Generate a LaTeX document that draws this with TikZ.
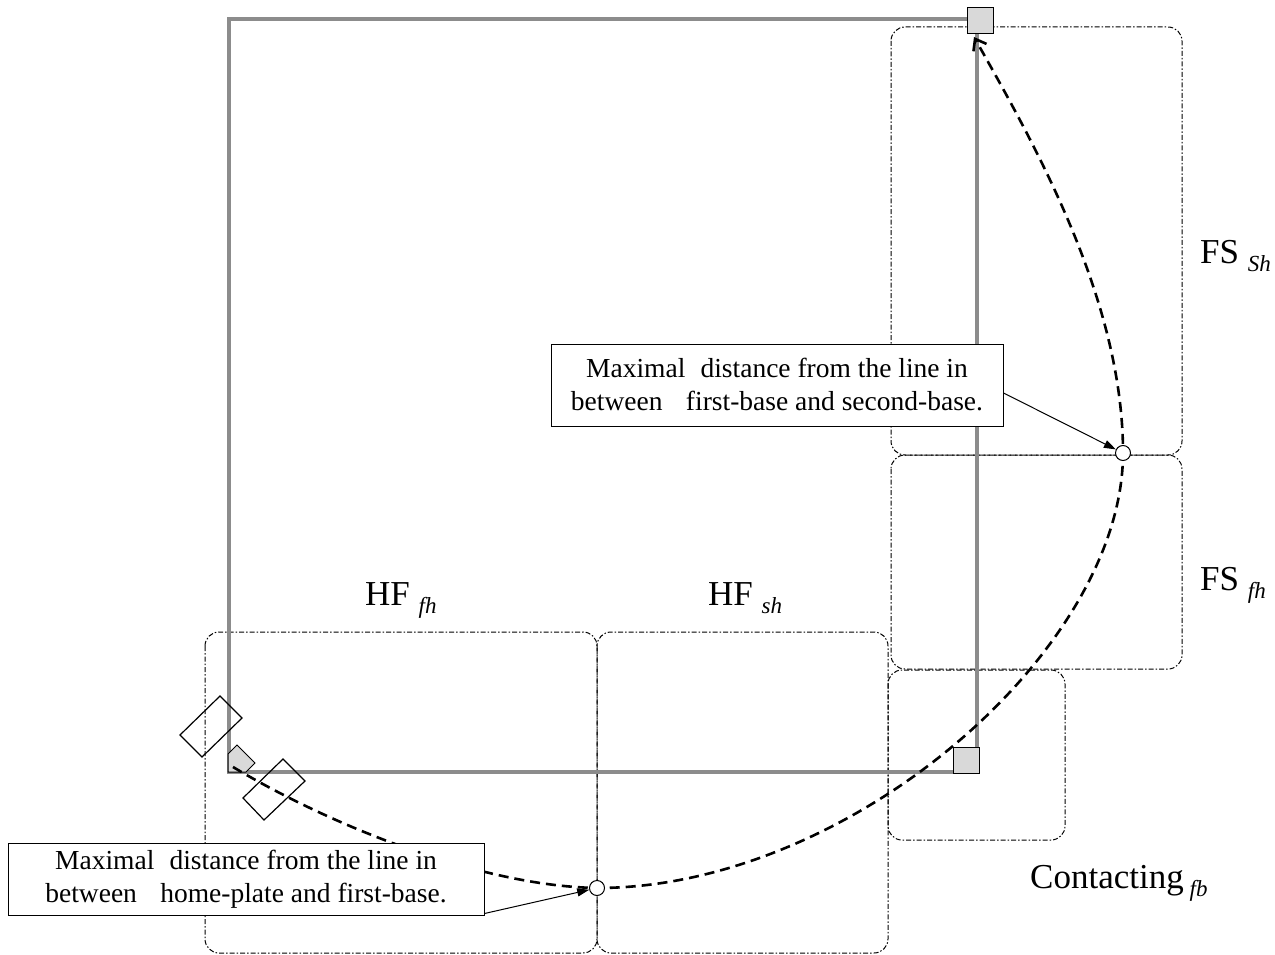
\documentclass[tikz,border=0pt]{standalone}
\usepackage{fontspec}
\setmainfont{Liberation Serif}
\usetikzlibrary{arrows.meta}
\definecolor{fieldgray}{RGB}{140,140,140}
\definecolor{basegray}{RGB}{217,217,217}
\newcommand{\lblsub}[1]{\raisebox{-8pt}{\fontsize{23}{23}\selectfont\itshape #1}}
\begin{document}
\begin{tikzpicture}[x=1pt,y=-1pt,
  region/.style={draw=black, line width=1pt, dash pattern=on 5pt off 2pt on 1.5pt off 2pt, rounded corners=14pt},
  field/.style={draw=fieldgray, line width=3.5pt},
  basebox/.style={draw=black, line width=1pt, fill=basegray, minimum size=26pt, inner sep=0pt},
  plate/.style={draw=black, line width=1pt, fill=basegray, line join=miter},
  batter/.style={draw=black, line width=1.2pt, line join=miter},
  runpath/.style={draw=black, line width=2.6pt, dash pattern=on 10pt off 6pt},
  callout/.style={draw=black, line width=1pt, fill=white, align=center, font=\fontsize{27.5}{33}\selectfont, inner sep=0pt},
  marker/.style={circle, draw=black, fill=white, line width=1pt, minimum size=15pt, inner sep=0pt},
  pointer/.style={draw=black, line width=1pt, -{Triangle[length=12pt,width=8pt]}},
  biglabel/.style={font=\fontsize{35}{35}\selectfont, anchor=base west, inner sep=0pt}
]
\useasboundingbox (0,0) rectangle (1275,955);
% regions
\draw[region] (205,632) rectangle (597,953);
\draw[region] (597,632) rectangle (888,953);
\draw[region] (891,27) rectangle (1182,455);
\draw[region] (891,455) rectangle (1182,669);
\draw[region] (888,670) rectangle (1065,840);
% field
\draw[field] (229,19) rectangle (977,772);
% bases
\node[basebox] (second) at (980,21) {};
\node[basebox] (first) at (966.5,760) {};
\draw[plate] (228,772) -- (228,754) -- (237,745) -- (255,763) -- (246,772) -- cycle;
\draw[batter] (220,696) -- (242,718) -- (202,757) -- (180,735) -- cycle;
\draw[batter] (283,759) -- (305,781) -- (264,820) -- (243,798) -- cycle;
% run path
\coordinate (hp) at (233,767);
\coordinate (p2) at (597,888);
\coordinate (p1) at (1123,453);
\coordinate (sbtip) at (974,37);
\draw[runpath, -{Straight Barb[length=10pt,width=15pt,line width=2.6pt]}] (hp) .. controls (330,825) and (480,886) .. (p2) .. controls (850,888) and (1123,650) .. (p1) .. controls (1123,300) and (1035,145) .. (sbtip);
% callouts
\node[callout, minimum width=452pt, minimum height=82pt] (c1) at (777,385) {Maximal\hspace{0.3em} distance from the line in\\between\hspace{0.6em} first-base and second-base.};
\node[callout, minimum width=476pt, minimum height=72pt] (c2) at (246,879) {Maximal\hspace{0.3em} distance from the line in\\between\hspace{0.6em} home-plate and first-base.};
\node[marker] (m1) at (p1) {};
\node[marker] (m2) at (p2) {};
\draw[pointer] ([yshift=-8pt]c1.east) -- (m1);
\draw[pointer] ([yshift=2pt]c2.south east) -- (m2);
% labels
\node[biglabel] (lhf1) at (365,605) {HF \lblsub{fh}};
\node[biglabel] (lhf2) at (708,605) {HF \lblsub{sh}};
\node[biglabel] (lfs1) at (1200,263) {FS \lblsub{Sh}};
\node[biglabel] (lfs2) at (1200,590) {FS \lblsub{fh}};
\node[biglabel] (lct) at (1030,888) {Contacting\,\lblsub{fb}};
\end{tikzpicture}
\end{document}
